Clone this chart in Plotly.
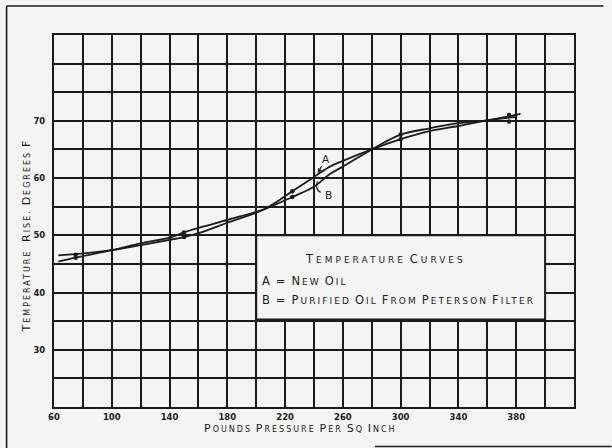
import plotly.graph_objects as go

# Curve A: new oil (pressure in lb/sq in, temperature rise in deg F)
pressure_a = [63, 75, 100, 120, 140, 150, 163, 180, 206, 225, 240, 251, 260, 280, 300, 320, 340, 360, 380]
temp_a = [46.5, 46.7, 47.4, 48.3, 49.2, 49.7, 50.6, 52.2, 54.6, 57.7, 60.2, 62.0, 63.0, 65.0, 66.8, 68.2, 69.1, 70.1, 70.7]

# Curve B: purified oil from Peterson filter
pressure_b = [63, 75, 100, 120, 140, 150, 163, 180, 206, 225, 240, 251, 260, 280, 300, 320, 340, 360, 383]
temp_b = [45.4, 46.1, 47.4, 48.6, 49.6, 50.5, 51.5, 52.7, 54.6, 56.7, 58.5, 60.7, 62.0, 65.0, 67.6, 68.7, 69.6, 70.1, 71.2]

# Test points marked on each curve
test_pressure = [75, 150, 225, 300, 375]
test_temp_a = [46.6, 49.7, 57.7, 66.8, 69.9]
test_temp_b = [46.1, 50.5, 56.7, 67.6, 71.0]

# Axis ticks: grid every 20 lb / 5 deg, labels on alternate lines
x_ticks = list(range(60, 421, 20))
x_labels = ["60", "", "100", "", "140", "", "180", "", "220", "", "260", "", "300", "", "340", "", "380", "", ""]
y_ticks = list(range(20, 86, 5))
y_labels = ["", "", "30", "", "40", "", "50", "", "60", "", "70", "", "", ""]

INK = "#1b1b1b"
PAPER = "#f4f4f4"
FONT = "DejaVu Sans"

W, H = 612, 448
L, R, T, B = 53.5, 37.5, 35, 41


def small_caps(text, big=10.5, small=7.5, spacing=1.2):
    """Hand-lettering style: capital initials, smaller wide-set capitals for the rest."""
    words = []
    for w in text.split(" "):
        if not w:
            words.append("")
            continue
        head, tail = w[0].upper(), w[1:].upper()
        part = f"<span style='font-size:{big}px;letter-spacing:{spacing}px'>{head}</span>"
        if tail:
            part += f"<span style='font-size:{small}px;letter-spacing:{spacing}px'>{tail}</span>"
        words.append(part)
    return " ".join(words)


def px_x(px):
    return (px - L) / (W - L - R)


def px_y(py):
    return 1 - (py - T) / (H - T - B)


fig = go.Figure()

line_style = dict(color=INK, width=1.8, shape="spline", smoothing=1.0)
fig.add_trace(go.Scatter(x=pressure_a, y=temp_a, mode="lines", line=line_style,
                         name="A", hoverinfo="skip"))
fig.add_trace(go.Scatter(x=pressure_b, y=temp_b, mode="lines", line=line_style,
                         name="B", hoverinfo="skip"))
fig.add_trace(go.Scatter(x=test_pressure, y=test_temp_a, mode="markers",
                         marker=dict(color=INK, size=4.5, symbol="circle"), name="A points"))
fig.add_trace(go.Scatter(x=test_pressure, y=test_temp_b, mode="markers",
                         marker=dict(color=INK, size=4.5, symbol="circle"), name="B points"))

axis_common = dict(
    showgrid=True, gridcolor=INK, gridwidth=2,
    showline=True, linecolor=INK, linewidth=2, mirror=True,
    ticks="", zeroline=False,
    tickfont=dict(family=FONT, size=8.5, color=INK),
)

fig.update_xaxes(range=[60, 420], tickmode="array", tickvals=x_ticks,
                 ticktext=[f"<b>{t}</b>" if t else "" for t in x_labels],
                 ticklabelstandoff=1, **axis_common)
fig.update_yaxes(range=[20, 85], tickmode="array", tickvals=y_ticks,
                 ticktext=[f"<b>{t}</b>" if t else "" for t in y_labels],
                 ticklabelstandoff=5, **axis_common)

shapes = []
# Key box over the grid
shapes.append(dict(type="rect", xref="x", yref="y", x0=200, x1=400, y0=35.3, y1=50,
                   fillcolor=PAPER, line=dict(color=INK, width=2), layer="above"))
# Hook tying label B to its curve
shapes.append(dict(type="path", xref="x", yref="y",
                   path="M 242.3,59.4 Q 240.6,57.9 244.6,57.5",
                   line=dict(color=INK, width=1.2), layer="above"))
# Sheet border
shapes.append(dict(type="line", xref="paper", yref="paper",
                   x0=px_x(6), x1=px_x(6), y0=px_y(6), y1=px_y(448),
                   line=dict(color=INK, width=1.6)))
shapes.append(dict(type="line", xref="paper", yref="paper",
                   x0=px_x(6), x1=px_x(604), y0=px_y(6), y1=px_y(6),
                   line=dict(color=INK, width=1.6)))
shapes.append(dict(type="line", xref="paper", yref="paper",
                   x0=px_x(375), x1=px_x(612), y0=px_y(446.5), y1=px_y(446.5),
                   line=dict(color=INK, width=1.6)))

annotations = []
# Curve labels
annotations.append(dict(x=242.6, y=60.9, ax=248.3, ay=63.4, axref="x", ayref="y",
                        xref="x", yref="y", text="A", showarrow=True,
                        arrowhead=2, arrowsize=0.8, arrowwidth=1.1, arrowcolor=INK,
                        standoff=0, startstandoff=0,
                        font=dict(family=FONT, size=10.5, color=INK)))
annotations.append(dict(x=250.2, y=57.0, xref="x", yref="y", text="B", showarrow=False,
                        font=dict(family=FONT, size=10.5, color=INK)))
# Key text
annotations.append(dict(x=px_x(386), y=px_y(259), xref="paper", yref="paper",
                        xanchor="center", yanchor="middle", showarrow=False,
                        text=small_caps("Temperature Curves", 11.5, 9, 3.0),
                        font=dict(family=FONT, color=INK)))
annotations.append(dict(x=px_x(260), y=px_y(281), xref="paper", yref="paper",
                        xanchor="left", yanchor="middle", showarrow=False,
                        text=small_caps("A = New Oil", 11.5, 9, 2.1),
                        font=dict(family=FONT, color=INK)))
annotations.append(dict(x=px_x(260), y=px_y(300), xref="paper", yref="paper",
                        xanchor="left", yanchor="middle", showarrow=False,
                        text=small_caps("B = Purified Oil From Peterson Filter", 11.5, 9, 2.1),
                        font=dict(family=FONT, color=INK)))
# Axis titles
annotations.append(dict(x=px_x(300), y=px_y(428), xref="paper", yref="paper",
                        xanchor="center", yanchor="middle", showarrow=False,
                        text=small_caps("Pounds Pressure Per Sq Inch", 11, 8, 2.0),
                        font=dict(family=FONT, color=INK)))
annotations.append(dict(x=px_x(25), y=px_y(236), xref="paper", yref="paper",
                        xanchor="center", yanchor="middle", showarrow=False, textangle=-90,
                        text=small_caps("Temperature  Rise. Degrees F", 11, 8, 2.0),
                        font=dict(family=FONT, color=INK)))

fig.update_layout(
    width=W, height=H,
    margin=dict(l=L, r=R, t=T, b=B, pad=0),
    paper_bgcolor=PAPER, plot_bgcolor=PAPER,
    showlegend=False,
    shapes=shapes, annotations=annotations,
    font=dict(family=FONT, color=INK),
)

fig.write_html("out.html")
